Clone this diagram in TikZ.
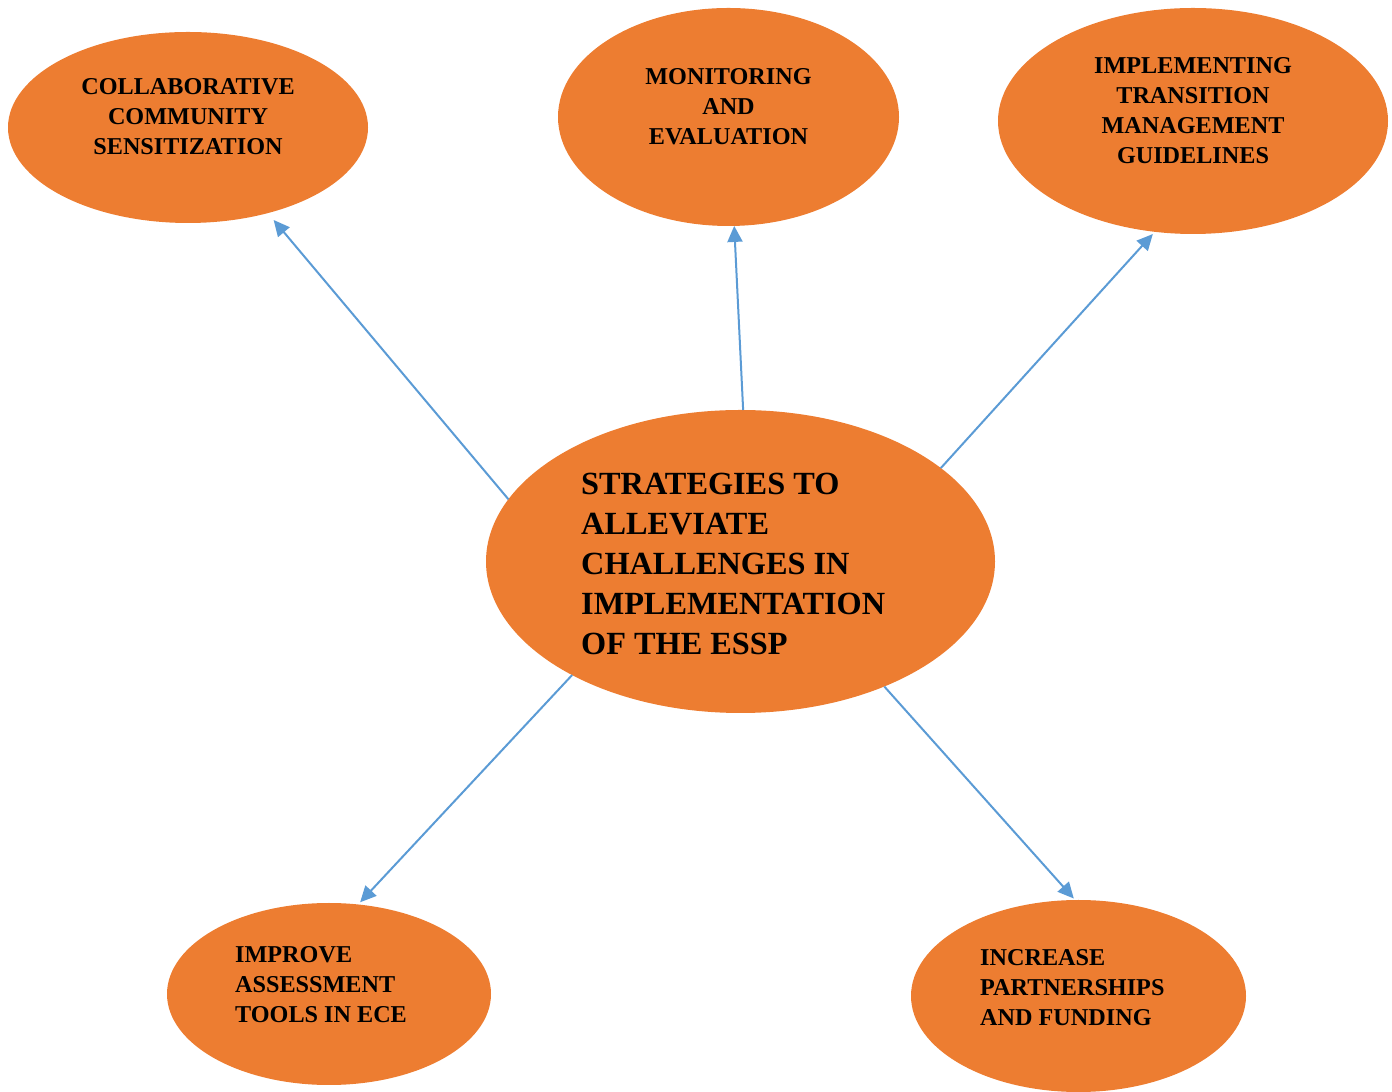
\documentclass[tikz,border=0pt]{standalone}
\usepackage{fontspec}
\setmainfont{Liberation Serif}
\usetikzlibrary{arrows.meta,shapes.geometric}
\definecolor{blob}{HTML}{ED7D31}
\definecolor{link}{HTML}{5B9BD5}
\tikzset{
  blobshape/.style={ellipse,fill=blob,draw=none,inner sep=0pt,outer sep=0pt},
  smalltxt/.style={font=\fontsize{24.2}{30}\selectfont\bfseries,inner sep=0pt,text=black},
  bigtxt/.style={font=\fontsize{32.3}{40}\selectfont\bfseries,inner sep=0pt,text=black},
  arr/.style={link,line width=2pt,-{Triangle[length=16pt,width=15pt]}}
}
\begin{document}
\begin{tikzpicture}[x=1pt,y=1pt]
\useasboundingbox (0,0) rectangle (1392,1092);
% ellipses (y = 1092 - pixel y)
\node[blobshape,minimum width=360pt,minimum height=191pt] (n1) at (188,964.5) {};
\node[blobshape,minimum width=341pt,minimum height=218pt] (n2) at (728.5,975) {};
\node[blobshape,minimum width=390pt,minimum height=226pt] (n3) at (1193,971) {};
\node[blobshape,minimum width=509pt,minimum height=303pt] (c) at (740.5,530.5) {};
\node[blobshape,minimum width=324pt,minimum height=182pt] (n4) at (329,98) {};
\node[blobshape,minimum width=335pt,minimum height=192pt] (n5) at (1078.5,96) {};
% texts
\node[smalltxt,align=center] (t1) at (188,975) {COLLABORATIVE\\COMMUNITY\\SENSITIZATION};
\node[smalltxt,align=center] (t2) at (728.5,985.5) {MONITORING\\AND\\EVALUATION};
\node[smalltxt,align=center] (t3) at (1193,981.5) {IMPLEMENTING\\TRANSITION\\MANAGEMENT\\GUIDELINES};
\node[bigtxt,align=left,anchor=west] (tc) at (581,528.5) {STRATEGIES TO\\ALLEVIATE\\CHALLENGES IN\\IMPLEMENTATION\\OF THE ESSP};
\node[smalltxt,align=left,anchor=west] (t4) at (235,107) {IMPROVE\\ASSESSMENT\\TOOLS IN ECE};
\node[smalltxt,align=left,anchor=west] (t5) at (980,104) {INCREASE\\PARTNERSHIPS\\AND FUNDING};
% connectors
\draw[arr,shorten >=9pt] (c.165.85) -- (n1.-47.7);
\draw[arr] (c.89.6) -- (n2.-87.9);
\draw[arr,shorten >=3pt] (c.25.4) -- (n3.251.3);
\draw[arr,shorten >=3pt] (c.214.1) -- (n4.72.1);
\draw[arr,shorten >=2pt] (c.319.3) -- (n5.92.9);
\end{tikzpicture}
\end{document}
